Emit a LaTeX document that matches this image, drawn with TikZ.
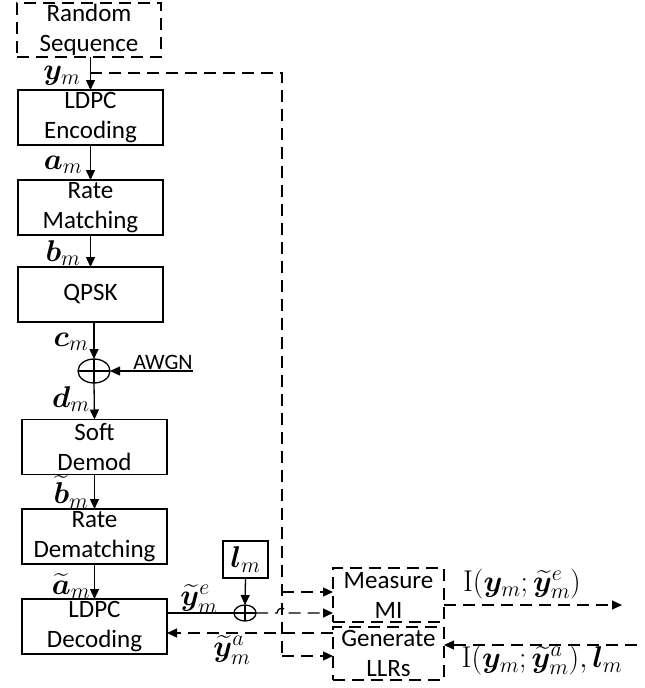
\RequirePackage{fix-cm}
\documentclass[tikz,border=0pt]{standalone}
\usepackage{amsmath}
\usepackage{bm}
\usepackage[no-math]{fontspec}
\setmainfont{Carlito}
\usetikzlibrary{arrows.meta,shapes.geometric}
\DeclareMathSizes{30}{30}{22}{17}
\newcommand{\boxfnt}{\fontsize{25}{30}\selectfont}
\newcommand{\awgnfnt}{\fontsize{22}{26}\selectfont}
\newcommand{\lblfnt}{\fontsize{30}{32}\selectfont}
\begin{document}
\begin{tikzpicture}[x=1pt,y=-1pt,
  every node/.style={inner sep=0pt, outer sep=0pt},
  blk/.style={draw, line width=1.3pt, align=center, font=\boxfnt, minimum width=145pt, minimum height=55pt},
  lowtext/.style={execute at begin node={\rule{0pt}{22.5pt}}},
  dpat/.style={dash pattern=on 12pt off 7pt},
  dblk/.style={blk, dpat},
  conn/.style={line width=1.3pt, -{Triangle[length=10pt,width=9pt]}},
  dconn/.style={conn, dpat},
  dline/.style={line width=1.3pt, dpat},
  lbl/.style={font=\lblfnt},
  crossed/.style={draw, ellipse, line width=1.3pt, path picture={\draw[line width=1.1pt] (path picture bounding box.north) -- (path picture bounding box.south) (path picture bounding box.west) -- (path picture bounding box.east);}},
]
\useasboundingbox (0,0) rectangle (645,688);
% blocks
\node[dblk, minimum width=144pt, minimum height=54pt] (rs) at (89,30) {Random\\Sequence};
\node[blk, lowtext] (enc) at (90.5,117.5) {LDPC\\Encoding};
\node[blk, lowtext] (rm) at (90.5,207.5) {Rate\\Matching};
\node[blk] (qpsk) at (90.5,294.5) {QPSK};
\node[crossed, minimum width=32pt, minimum height=24pt] (sum) at (94,371) {};
\node[font=\awgnfnt, anchor=south] (awgn) at (163,370) {AWGN};
\coordinate (awgnend) at (193,371);
\node[blk, lowtext] (demod) at (94.5,447) {Soft\\Demod};
\node[blk, lowtext] (rdm) at (94.5,536.5) {Rate\\Dematching};
\node[blk, lowtext] (dec) at (94.5,626.5) {LDPC\\Decoding};
\node[draw, line width=1.3pt, minimum width=45pt, minimum height=37pt, lbl] (lm) at (245.5,559.5) {$\bm{l}_m$};
\node[crossed, minimum width=22pt, minimum height=16pt] (sum2) at (245,613) {};
\node[dblk, minimum width=111pt, minimum height=54pt] (mmi) at (388.5,595) {Measure\\MI};
\node[dblk, minimum width=111pt, minimum height=53pt] (gen) at (388.5,653.5) {Generate\\LLRs};
% coordinates
\coordinate (split) at (90,73);
\coordinate (vx) at (282,73);
\coordinate (b1) at (282,592);
\coordinate (b2) at (282,656);
\coordinate (out) at (622,605);
\coordinate (in) at (637,645);
% main chain
\draw[conn] (rs.south -| enc.north) -- (enc.north);
\draw[conn] (enc.south) -- (rm.north);
\draw[conn] (rm.south) -- (qpsk.north);
\draw[conn] (qpsk.south -| sum.north) -- (sum.north);
\draw[conn] (awgnend) -- (sum.east);
\draw[conn] (sum.south) -- (demod.north);
\draw[conn] (demod.south) -- (rdm.north);
\draw[conn] (rdm.south) -- (dec.north);
\draw[conn] (lm.south) -- (sum2.north);
\draw[line width=1.3pt] (dec.east |- sum2.west) -- (sum2.west);
% dashed feedback
\draw[dline] (split) -- (vx) -- (b2);
\draw[dconn] (b1) -- (b1 -| mmi.west);
\draw[dconn] (b2) -- (b2 -| gen.west);
\draw[dconn] (sum2.east) -- (277,613) arc (180:360:5) -- (mmi.west |- sum2.east);
\draw[dconn] (gen.west |- 0,633) -- (dec.east |- 0,633);
\draw[dconn] (mmi.east |- out) -- (out);
\draw[dconn] (in) -- (gen.east |- in);
% labels
\node[lbl] at (62,76) {$\bm{y}_m$};
\node[lbl] at (63,165) {$\bm{a}_m$};
\node[lbl] at (63,253) {$\bm{b}_m$};
\node[lbl] at (71,342) {$\bm{c}_m$};
\node[lbl] at (71,399) {$\bm{d}_m$};
\node[lbl] at (71,492) {$\widetilde{\bm{b}}_m$};
\node[lbl] at (71,586) {$\widetilde{\bm{a}}_m$};
\node[lbl] at (199,599) {$\widetilde{\bm{y}}^e_m$};
\node[lbl] at (232,650) {$\widetilde{\bm{y}}^a_m$};
\node[lbl] at (522,584) {$\mathrm{I}(\bm{y}_m;\widetilde{\bm{y}}^e_m)$};
\node[lbl] at (542,660) {$\mathrm{I}(\bm{y}_m;\widetilde{\bm{y}}^a_m),\bm{l}_m$};
\end{tikzpicture}
\end{document}
